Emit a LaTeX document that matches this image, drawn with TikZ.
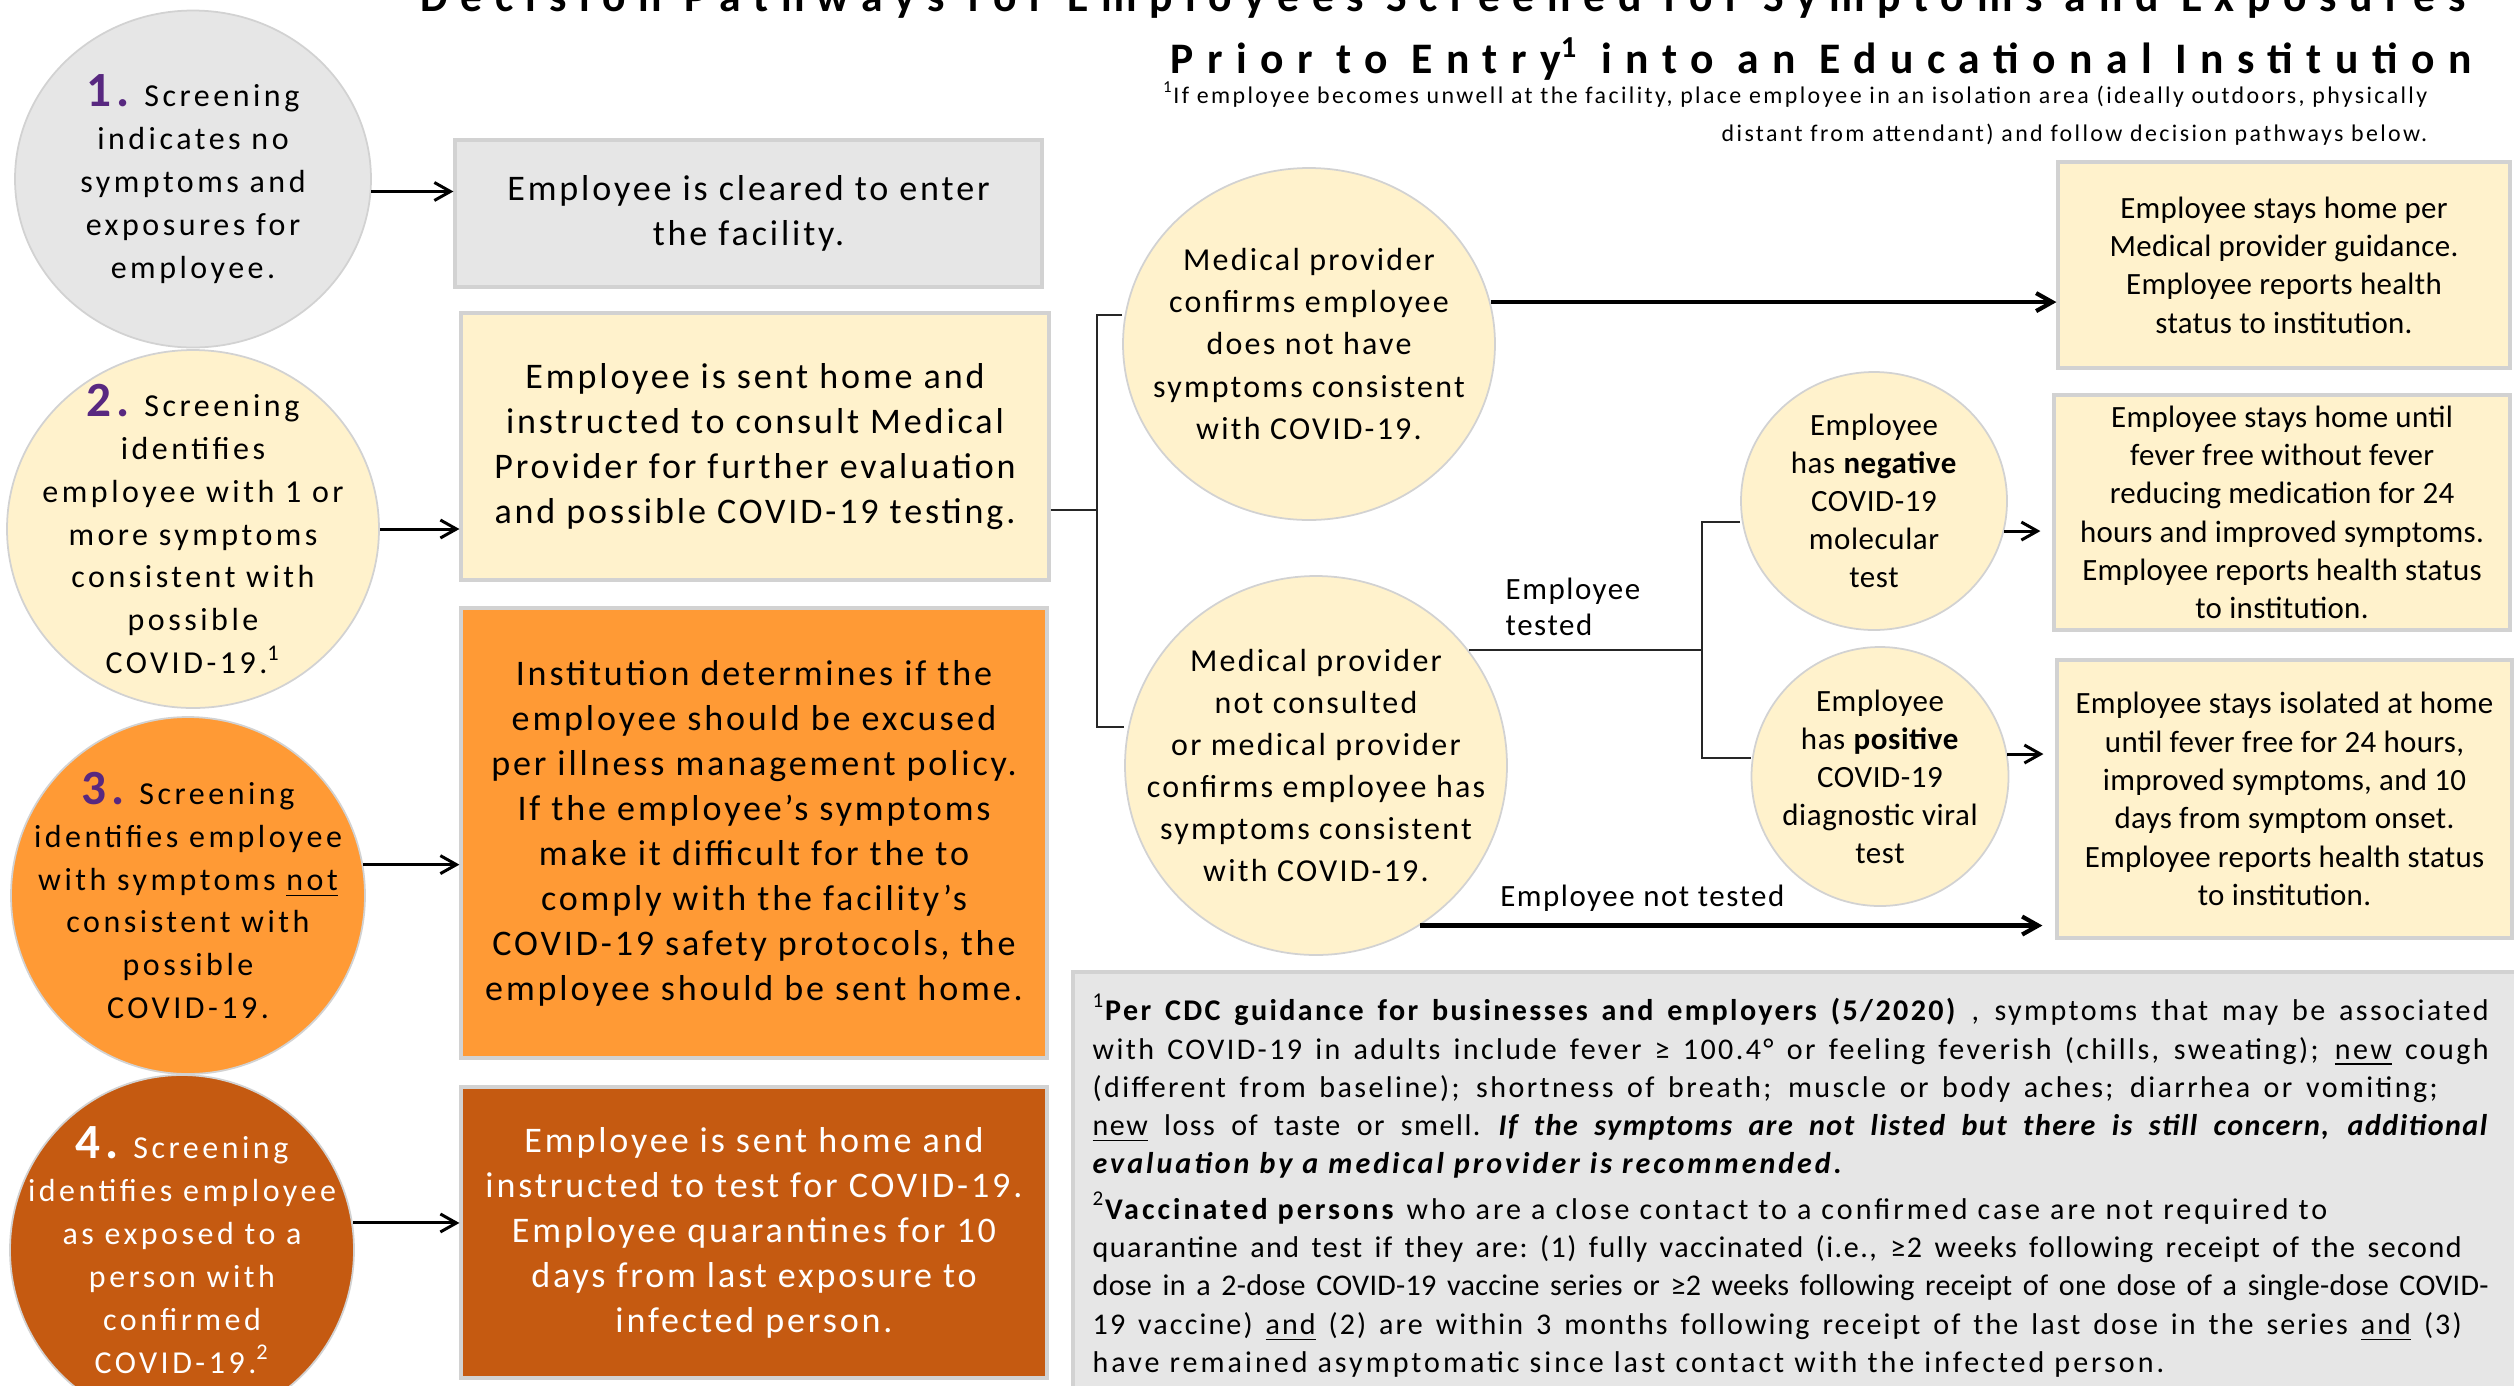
\documentclass[tikz,border=0pt]{standalone}
\usepackage{fontspec}
\setmainfont{Carlito}
\usetikzlibrary{shapes.geometric,arrows.meta}
\definecolor{paper}{HTML}{E6E6E6}
\definecolor{paperline}{HTML}{D2D2D2}
\definecolor{cream}{HTML}{FFF2CC}
\definecolor{tangerine}{HTML}{FF9A35}
\definecolor{rust}{HTML}{C55A11}
\definecolor{numpurple}{RGB}{88,40,128}
\newcommand\stepnum[2]{{\fontsize{14pt}{12pt}\selectfont\bfseries\color{#1}#2}}
\newcommand\fnl[3]{\makebox[#1][s]{\addfontfeature{LetterSpace=#2}\spaceskip=0.25em plus 1fil\xspaceskip=0.25em plus 1fil\relax #3}}
\tikzset{
  headline/.style={anchor=base east, inner sep=0pt, font={\fontsize{12.4pt}{17.6pt}\selectfont\bfseries\addfontfeature{LetterSpace=29}}},
  ball/.style={ellipse, draw=paperline, line width=0.5pt, inner sep=-6mm, align=center, font={\fontsize{9.1pt}{12.2pt}\selectfont\addfontfeature{LetterSpace=11}}},
  card/.style={rectangle, draw=paperline, line width=0.9pt, inner sep=0pt, align=center, font={\fontsize{10.25pt}{12.8pt}\selectfont\addfontfeature{LetterSpace=8}}},
  bubble/.style={ellipse, draw=paperline, fill=cream, line width=0.5pt, inner sep=-6mm, align=center, font={\fontsize{9.1pt}{12pt}\selectfont\addfontfeature{LetterSpace=7}}},
  testball/.style={bubble, font={\fontsize{8.8pt}{10.8pt}\selectfont\addfontfeature{LetterSpace=2}}},
  outcome/.style={rectangle, draw=paperline, fill=cream, line width=0.9pt, inner sep=0pt, align=center, font={\fontsize{8.8pt}{10.9pt}\selectfont\addfontfeature{LetterSpace=1}}},
  lbl/.style={inner sep=0pt, font={\fontsize{8.8pt}{10.2pt}\selectfont\addfontfeature{LetterSpace=5}}},
  fnote/.style={anchor=north west, inner sep=0pt, text width=13.96cm, align=left, font={\fontsize{8.55pt}{10.9pt}\selectfont\addfontfeature{LetterSpace=10}}},
  wire/.style={line width=0.6pt, draw=black!85},
  arr/.style={->, line width=0.85pt},
  bigarr/.style={->, line width=1.2pt}
}
\begin{document}
\begin{tikzpicture}[>={Straight Barb[length=1.6mm,width=1.8mm]}]
\useasboundingbox (0,0) rectangle (25.14,-13.85);
\node[headline] (title1) at (24.66,-0.11) {Decision Pathways for Employees Screened for Symptoms and Exposures};
\node[headline] (title2) at (24.72,-0.73) {\addfontfeature{LetterSpace=31}Prior to Entry\textsuperscript{1} into an Educational Institution};
\node[anchor=base east, align=right, inner sep=0pt, font={\fontsize{6.8pt}{10.8pt}\selectfont\addfontfeature{LetterSpace=10}}] (note) at (24.28,-1.41) {\textsuperscript{1}If employee becomes unwell at the facility, place employee in an isolation area (ideally outdoors, physically\\distant from attendant) and follow decision pathways below.};

\node[ball, fill=paper, minimum width=3.56cm, minimum height=3.37cm] (s1) at (1.93,-1.79) {\stepnum{numpurple}{1.} Screening\\indicates no\\symptoms and\\exposures for\\employee.};
\node[card, fill=paper, minimum width=5.87cm, minimum height=1.47cm] (b1) at (7.485,-2.135) {Employee is cleared to enter\\the facility.};
\node[ball, fill=cream, minimum width=3.72cm, minimum height=3.58cm] (s2) at (1.93,-5.29) {\stepnum{numpurple}{2.} Screening\\identifies\\employee with 1 or\\more symptoms\\consistent with\\possible\\COVID-19.\textsuperscript{1}};
\node[card, fill=cream, minimum width=5.88cm, minimum height=2.67cm] (b2) at (7.55,-4.465) {Employee is sent home and\\instructed to consult Medical\\Provider for further evaluation\\and possible COVID-19 testing.};
\node[ball, fill=tangerine, minimum width=3.54cm, minimum height=3.57cm] (s3) at (1.88,-8.955) {\stepnum{numpurple}{3.} Screening\\identifies employee\\with symptoms \underline{not}\\consistent with\\possible\\COVID-19.};
\node[card, fill=tangerine, minimum width=5.86cm, minimum height=4.50cm] (b3) at (7.54,-8.33) {Institution determines if the\\employee should be excused\\per illness management policy.\\If the employee’s symptoms\\make it difficult for the to\\comply with the facility’s\\COVID-19 safety protocols, the\\employee should be sent home.};
\node[ball, fill=rust, text=white, minimum width=3.44cm, minimum height=3.50cm] (s4) at (1.82,-12.50) {\stepnum{white}{4.} Screening\\identifies employee\\as exposed to a\\person with\\confirmed\\COVID-19.\textsuperscript{2}};
\node[card, fill=rust, text=white, minimum width=5.86cm, minimum height=2.91cm] (b4) at (7.54,-12.325) {Employee is sent home and\\instructed to test for COVID-19.\\Employee quarantines for 10\\days from last exposure to\\infected person.};
\foreach \i/\a in {1/-4,2/0,3/10,4/9} {\draw[arr] (s\i.\a) -- (b\i.west |- s\i.\a);}

\node[bubble, minimum width=3.72cm, minimum height=3.52cm] (ea) at (13.09,-3.44) {Medical provider\\confirms employee\\does not have\\symptoms consistent\\with COVID-19.};
\node[bubble, minimum width=3.82cm, minimum height=3.79cm] (eb) at (13.16,-7.655) {Medical provider\\not consulted\\or medical provider\\confirms employee has\\symptoms consistent\\with COVID-19.};
\coordinate (k1) at (10.97,-5.10);
\coordinate (k1t) at (10.97,-3.15);
\coordinate (k1b) at (10.97,-7.27);
\draw[wire] (b2.east |- k1) -- (k1);
\draw[wire] (k1t -| ea.west) -- (k1t) -- (k1b) -- (k1b -| eb.west);

\node[testball, minimum width=2.66cm, minimum height=2.58cm] (en) at (18.74,-5.01) {Employee\\has \textbf{negative}\\COVID-19\\molecular\\test};
\node[testball, minimum width=2.57cm, minimum height=2.59cm] (ep) at (18.80,-7.765) {Employee\\has \textbf{positive}\\COVID-19\\diagnostic viral\\test};
\coordinate (k2t) at (17.02,-5.22);
\coordinate (k2b) at (17.02,-7.58);
\draw[wire] (eb.37) -- (eb.37 -| k2t);
\draw[wire] (k2t -| en.west) -- (k2t) -- (k2b) -- (k2b -| ep.west);
\node[lbl, align=left, anchor=west] (ltest) at (15.05,-6.07) {Employee\\tested};

\node[outcome, minimum width=4.52cm, minimum height=2.06cm] (r1) at (22.84,-2.65) {Employee stays home per\\Medical provider guidance.\\Employee reports health\\status to institution.};
\node[outcome, minimum width=4.56cm, minimum height=2.35cm] (r2) at (22.82,-5.125) {Employee stays home until\\fever free without fever\\reducing medication for 24\\hours and improved symptoms.\\Employee reports health status\\to institution.};
\node[outcome, minimum width=4.55cm, minimum height=2.78cm] (r3) at (22.845,-7.99) {Employee stays isolated at home\\until fever free for 24 hours,\\improved symptoms, and 10\\days from symptom onset.\\Employee reports health status\\to institution.};
\draw[bigarr] (ea.13) -- (r1.west |- ea.13);
\draw[arr, shorten >=0.12cm] (en.-13.5) -- (r2.west |- en.-13.5);
\draw[arr, shorten >=0.12cm] (ep.10) -- (r3.west |- ep.10);
\draw[bigarr, shorten >=0.13cm] (eb.-57) -- node[lbl, above=0.12cm, pos=0.35] (lnt) {Employee not tested} (r3.west |- eb.-57);

\draw[fill=paper, draw=paperline, line width=0.9pt] (10.73,-9.72) rectangle (25.16,-13.95);
\node[fnote] (fn) at (10.92,-9.93) {%
\fnl{13.96cm}{8}{\textsuperscript{1}\textbf{Per CDC guidance for businesses and employers (5/2020)} , symptoms that may be associated}\\
\fnl{13.96cm}{8}{with COVID-19 in adults include fever ≥ 100.4° or feeling feverish (chills, sweating); \underline{new} cough}\\
\fnl{13.45cm}{8}{(different from baseline); shortness of breath; muscle or body aches; diarrhea or vomiting;}\\
\fnl{13.96cm}{5}{\underline{new} loss of taste or smell. \textbf{\textit{If the symptoms are not listed but there is still concern, additional}}}\\
\textbf{\textit{evaluation by a medical provider is recommended.}}\\[0.07cm]
\textsuperscript{2}\textbf{Vaccinated persons} who are a close contact to a confirmed case are not required to\\
\fnl{13.69cm}{5}{quarantine and test if they are: (1) fully vaccinated (i.e., ≥2 weeks following receipt of the second}\\
\fnl{13.96cm}{1}{dose in a 2-dose COVID-19 vaccine series or ≥2 weeks following receipt of one dose of a single-dose COVID-}\\
\fnl{13.69cm}{7}{19 vaccine) \underline{and} (2) are within 3 months following receipt of the last dose in the series \underline{and} (3)}\\
\mbox{have remained asymptomatic since last contact with the infected person.}};
\end{tikzpicture}
\end{document}
